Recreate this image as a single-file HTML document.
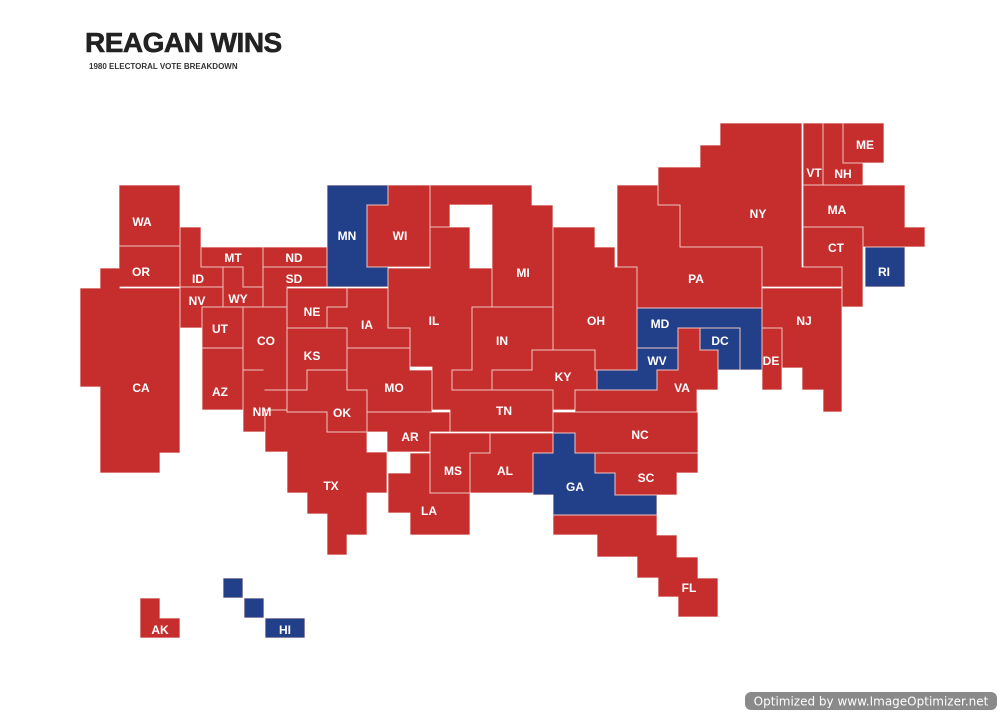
<!DOCTYPE html>
<html><head><meta charset="utf-8"><style>
body{margin:0;background:#fff;width:1000px;height:714px;overflow:hidden;font-family:"Liberation Sans",sans-serif}
svg{position:absolute;left:0;top:0}
</style></head><body>
<svg id="map" width="1000" height="714" viewBox="0 0 1000 714">
<defs><filter id="shrink" x="-5%" y="-5%" width="110%" height="110%"><feMorphology operator="erode" radius="0.6"/></filter></defs>
<text x="85" y="52" font-family="Liberation Sans, sans-serif" font-weight="bold" font-size="28" fill="#222" letter-spacing="-0.5" stroke="#222" stroke-width="0.6">REAGAN WINS</text>
<text x="89" y="69" font-family="Liberation Sans, sans-serif" font-weight="bold" font-size="8" fill="#333">1980 ELECTORAL VOTE BREAKDOWN</text>
<g id="bg"></g>
<g id="states"></g>
<g id="labels"></g>
<g>
<rect x="745" y="692" width="252" height="18" rx="6" fill="#8a8a8a"/>
<text x="871" y="705.5" text-anchor="middle" font-size="12" fill="#fff" font-family="DejaVu Sans, sans-serif">Optimized by www.ImageOptimizer.net</text>
</g>
</svg>
<script>
const stateCodes=["WA","OR","CA","ID","MT","WY","ND","SD","NV","UT","AZ","CO","NM","NE","KS","OK","TX","MN","IA","MO","AR","LA","WI","IL","MS","AL","MI","IN","KY","TN","OH","GA","NC","SC","FL","WV","VA","MD","DC","DE","PA","NJ","NY","CT","RI","MA","VT","NH","ME","AK","HI"];
const winners=["R","R","R","R","R","R","R","R","R","R","R","R","R","R","R","R","R","D","R","R","R","R","R","R","R","R","R","R","R","R","R","D","R","R","R","D","R","D","D","R","R","R","R","R","D","R","R","R","R","R","D"];
const shapes={
WA:[[119,185,61,61]],OR:[[119,246,61,41]],
CA:[[80,288,100,99],[100,268,20,20],[100,387,80,66],[100,453,60,20]],
ID:[[180,227,21,60],[201,267,22,20]],MT:[[201,247,62,20],[243,267,20,20]],
WY:[[223,267,20,20],[223,287,40,20]],ND:[[263,247,64,20]],SD:[[263,267,64,20],[263,287,24,20]],
NV:[[180,287,43,20],[180,307,22,21]],UT:[[202,307,41,41]],AZ:[[202,348,41,62]],
CO:[[243,307,44,63],[263,370,24,20]],NM:[[243,370,22,62],[265,390,22,20]],
NE:[[287,288,40,40],[327,288,20,19]],KS:[[287,328,60,42],[287,370,20,20]],
OK:[[307,370,40,20],[287,390,80,22],[327,412,40,20]],
TX:[[265,410,22,42],[287,412,40,20],[287,432,80,20],[287,452,100,41],[307,493,60,21],[327,514,40,21],[327,535,20,20]],
MN:[[327,185,61,20],[327,205,40,82],[367,267,21,20]],
IA:[[347,288,41,60],[327,307,20,21],[388,328,22,20]],MO:[[347,348,63,22],[347,370,20,20],[367,370,65,42]],
AR:[[367,412,83,20],[387,432,43,20]],LA:[[410,453,20,40],[388,473,22,40],[410,493,60,42]],
WI:[[388,185,42,20],[367,205,63,62]],
IL:[[430,227,40,41],[388,268,104,39],[388,307,84,21],[410,328,42,39],[452,328,20,42],[432,367,20,43]],
MS:[[430,433,60,20],[430,453,40,40]],AL:[[490,433,63,20],[470,453,63,40]],
MI:[[492,205,61,102],[430,185,102,20],[430,205,20,22]],
IN:[[472,307,81,43],[472,350,60,20],[452,370,40,20]],
KY:[[532,350,63,20],[492,370,105,20],[553,390,22,20]],TN:[[450,390,103,42]],
OH:[[553,227,42,123],[595,247,20,123],[615,267,22,103]],
GA:[[553,433,22,20],[533,453,62,20],[533,473,82,22],[553,495,104,20]],
NC:[[553,412,145,21],[575,433,123,20]],SC:[[595,453,103,20],[615,473,62,22]],
FL:[[553,515,104,20],[597,535,80,22],[637,557,61,21],[658,578,60,19],[678,597,40,20]],
WV:[[597,370,60,20],[637,348,41,22]],
VA:[[575,390,122,22],[657,370,21,20],[678,328,22,62],[700,350,18,40]],
MD:[[637,308,125,20],[637,328,41,20],[740,328,22,42]],DC:[[700,328,40,22],[718,350,22,20]],
DE:[[762,328,20,62]],
PA:[[617,185,41,82],[658,205,22,103],[637,267,21,41],[680,247,82,61]],
NJ:[[762,288,80,40],[782,328,60,40],[802,368,40,22],[823,390,19,22]],
NY:[[720,123,82,124],[700,145,20,102],[658,167,42,38],[680,205,40,42],[762,247,40,40],[802,267,40,20]],
CT:[[803,227,60,40],[842,267,21,40]],RI:[[865,247,40,40]],
MA:[[803,185,102,42],[863,227,62,20]],VT:[[803,123,20,62]],
NH:[[823,123,20,40],[823,163,40,22]],ME:[[843,123,41,40]],
AK:[[140,598,20,20],[140,618,40,20]],HI:[[223,578,20,20],[244,598,20,20],[265,618,40,20]]
};
const labelPos={WA:[142,221],OR:[141,271],CA:[141,387],ID:[198,278],MT:[233,257],ND:[294,257],SD:[294,278],NV:[197,300],WY:[238,298],UT:[220,328],CO:[266,340],NE:[312,311],IA:[367,324],KS:[312,355],AZ:[220,391],NM:[262,411],OK:[342,412],MO:[394,387],AR:[410,436],TX:[331,485],LA:[429,510],MS:[453,470],AL:[505,470],GA:[575,486],SC:[646,477],NC:[640,434],TN:[504,410],KY:[563,376],VA:[682,387],WV:[657,360],MD:[660,323],DC:[720,340],DE:[771,360],NJ:[804,320],PA:[696,278],OH:[596,320],IN:[502,340],IL:[434,320],MI:[523,272],WI:[400,235],MN:[347,235],NY:[758,213],VT:[814,172],NH:[843,173],ME:[865,144],MA:[837,209],CT:[836,247],RI:[884,271],FL:[689,587],AK:[160,629],HI:[285,629]};
const NS="http://www.w3.org/2000/svg";
const bg=document.getElementById('bg');
const layer=document.getElementById('states');
const labels=document.getElementById('labels');
const colors={R:"#c62f2f",D:"#213f8a"};
stateCodes.forEach((code,i)=>{
  const g=document.createElementNS(NS,'g');
  
  
  g.setAttribute('filter','url(#shrink)');
  shapes[code].forEach(r=>{
    const b=document.createElementNS(NS,'rect');
    
    
    b.setAttribute('x',r[0]);b.setAttribute('y',r[1]);
    b.setAttribute('width',r[2]);b.setAttribute('height',r[3]);
    b.setAttribute('fill','#f0c4bf');
    bg.appendChild(b);
    const rc=document.createElementNS(NS,'rect');
    
    
    rc.setAttribute('x',r[0]);rc.setAttribute('y',r[1]);
    rc.setAttribute('width',r[2]);rc.setAttribute('height',r[3]);
    rc.setAttribute('fill',colors[winners[i]]);
    g.appendChild(rc);
  });
  layer.appendChild(g);
});
stateCodes.forEach(code=>{
  const t=document.createElementNS(NS,'text');
  
  
  t.setAttribute('x',labelPos[code][0]);t.setAttribute('y',labelPos[code][1]+5);
  t.setAttribute('text-anchor','middle');t.setAttribute('font-size','12');
  t.setAttribute('font-weight','bold');t.setAttribute('fill','#fff');
  t.setAttribute('font-family','Liberation Sans, sans-serif');
  t.textContent=code;
  labels.appendChild(t);
});
</script>
</body></html>
